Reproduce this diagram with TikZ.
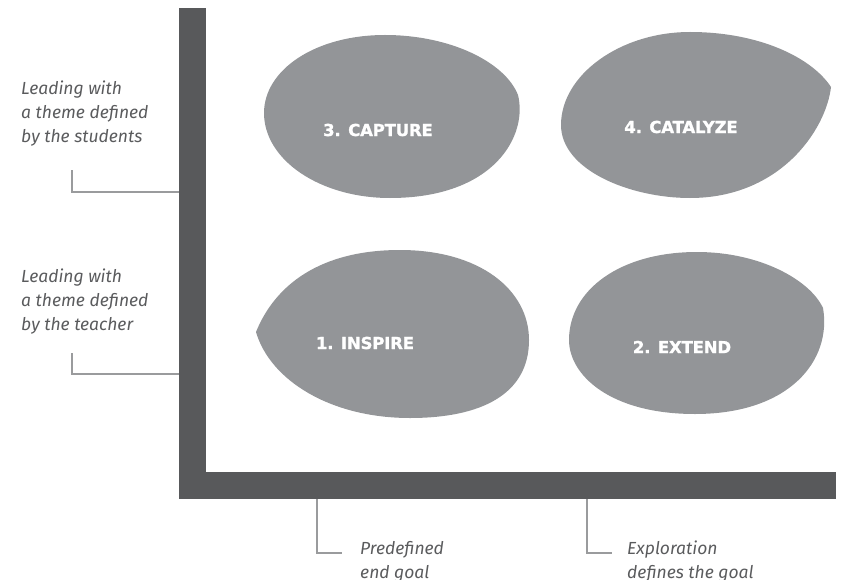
\documentclass[tikz,border=0pt]{standalone}
\usepackage{fontspec}
\setmainfont{Fira Sans}
\newfontfamily\stagefont{DejaVu Sans}[BoldFeatures={FakeBold=1.3,LetterSpace=-1}]
\usepackage{xcolor}
\definecolor{kaxis}{HTML}{58595b}
\definecolor{kblob}{HTML}{939598}
\definecolor{ktext}{HTML}{5a5b5d}
\definecolor{kline}{HTML}{9a9b9d}

\begin{document}
\begin{tikzpicture}[x=1pt,y=-1pt,
  bar/.style={fill=kaxis,inner sep=0pt,outer sep=0pt},
  blob/.style={fill=kblob},
  stage/.style={white,font=\stagefont\fontsize{16.5}{18}\selectfont\bfseries},
  axislabel/.style={ktext,font=\fontsize{17.5}{23.7}\selectfont\itshape,
    align=left,inner sep=0pt,anchor=north west},
  leader/.style={kline,line width=1.2pt}]
  \useasboundingbox (0,0) rectangle (842,580);

  % Four stage blobs, each an egg with one blunt or pointed end
  \fill[blob] (385,35) .. controls (450,35) and (505,62) .. (518,95)
    .. controls (528,135) and (495,198) .. (390,198)
    .. controls (320,198) and (264,160) .. (264,113)
    .. controls (264,70) and (315,35) .. (385,35) -- cycle;
  \fill[blob] (831,87) .. controls (812,58) and (760,32) .. (690,32)
    .. controls (620,32) and (561,75) .. (561,125)
    .. controls (561,170) and (630,198) .. (690,198)
    .. controls (780,198) and (826,130) .. (831,87) -- cycle;
  \fill[blob] (256,332) .. controls (275,285) and (320,250) .. (400,250)
    .. controls (480,250) and (529,290) .. (529,340)
    .. controls (529,395) and (480,418) .. (410,418)
    .. controls (330,418) and (270,380) .. (256,332) -- cycle;
  \fill[blob] (697,252) .. controls (760,252) and (810,280) .. (823,308)
    .. controls (832,360) and (790,414) .. (695,414)
    .. controls (610,414) and (569,375) .. (569,340)
    .. controls (569,290) and (620,252) .. (697,252) -- cycle;

  \node[stage] (capture)  at (378,130) {3. CAPTURE};
  \node[stage] (catalyze) at (681,127) {4. CATALYZE};
  \node[stage] (inspire)  at (365,343) {1. INSPIRE};
  \node[stage] (extend)   at (682,347) {2. EXTEND};

  % Thick L-shaped axes
  \node[bar,minimum width=27pt,minimum height=491pt,anchor=north west] (ybar) at (179,8) {};
  \node[bar,minimum width=657pt,minimum height=27pt,anchor=south west] (xbar) at (179,499) {};

  % Axis labels
  \node[axislabel] (students) at (21,81) {Leading with\\a theme defined\\by the students};
  \node[axislabel] (teacher) at (21,269) {Leading with\\a theme defined\\by the teacher};
  \node[axislabel] (predef) at (360,541) {Predefined\\end goal};
  \node[axislabel] (explore) at (627,541) {Exploration\\defines the goal};

  % Leader lines from the labels to the axes
  \coordinate (s1) at (72,170);
  \coordinate (s2) at (72,192);
  \draw[leader] (s1) -- (s2) -- (s2 -| ybar.west);
  \coordinate (t1) at (72,353);
  \coordinate (t2) at (72,374);
  \draw[leader] (t1) -- (t2) -- (t2 -| ybar.west);
  \coordinate (p1) at (317,553);
  \draw[leader] (p1 |- xbar.south) -- (p1) -- ++(25,0);
  \coordinate (e1) at (587,553);
  \draw[leader] (e1 |- xbar.south) -- (e1) -- ++(25,0);

\end{tikzpicture}
\end{document}
